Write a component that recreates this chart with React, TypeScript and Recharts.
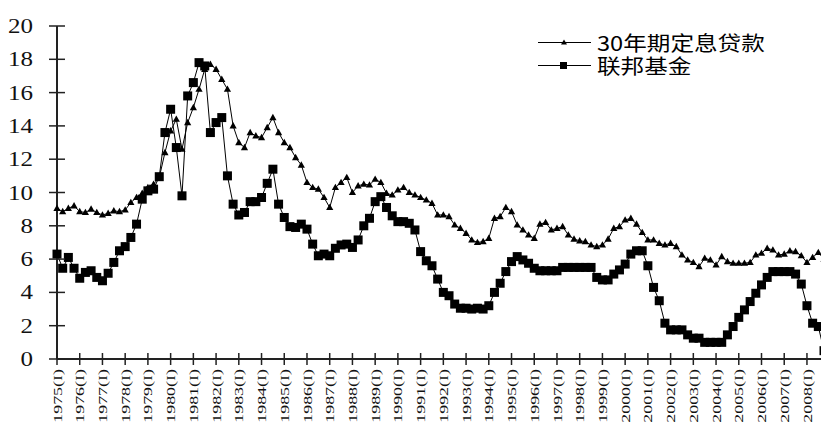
import { LineChart, Line, XAxis, YAxis, Legend } from 'recharts';

// quarterly, 1975(I) .. 2008(IV)
const YEARS = [
  1975, 1976, 1977, 1978, 1979, 1980, 1981, 1982, 1983, 1984, 1985, 1986,
  1987, 1988, 1989, 1990, 1991, 1992, 1993, 1994, 1995, 1996, 1997, 1998,
  1999, 2000, 2001, 2002, 2003, 2004, 2005, 2006, 2007, 2008,
];
const QUARTERS = ['I', 'II', 'III', 'IV'];
const Y_TICKS = [0, 2, 4, 6, 8, 10, 12, 14, 16, 18, 20];

const MORTGAGE_NAME = '30年期定息贷款';
const FED_NAME = '联邦基金';

// 30年期定息贷款
const mortgage30 = [
  9.05, 8.85, 9.05, 9.2,
  8.85, 8.8, 9.0, 8.8,
  8.65, 8.75, 8.9, 8.85,
  8.95, 9.4, 9.7, 9.95,
  10.3, 10.5, 10.9, 12.4,
  13.7, 14.4, 12.6, 14.2,
  15.1, 16.2, 17.4, 17.7,
  17.4, 16.8, 16.2, 14.0,
  13.0, 12.7, 13.6, 13.4,
  13.3, 13.9, 14.5, 13.6,
  13.0, 12.7, 12.1, 11.65,
  10.6, 10.3, 10.2, 9.7,
  9.1, 10.3, 10.6, 10.9,
  10.0, 10.4, 10.5, 10.45,
  10.8, 10.6, 9.95, 9.85,
  10.15, 10.3, 10.0, 9.85,
  9.7, 9.55, 9.35, 8.65,
  8.65, 8.55, 8.05, 7.85,
  7.55, 7.15, 7.0, 7.05,
  7.25, 8.45, 8.55, 9.1,
  8.85, 8.05, 7.75, 7.45,
  7.25, 8.1, 8.2, 7.75,
  7.85, 7.95, 7.45, 7.2,
  7.1, 7.05, 6.85, 6.75,
  6.85, 7.2, 7.85, 7.95,
  8.35, 8.45, 8.1, 7.6,
  7.15, 7.15, 6.95, 6.85,
  6.95, 6.75, 6.25, 5.95,
  5.8, 5.55, 6.05, 5.95,
  5.65, 6.15, 5.85, 5.75,
  5.75, 5.75, 5.8, 6.25,
  6.35, 6.65, 6.55, 6.25,
  6.3, 6.5, 6.45, 6.2,
  5.8, 6.1, 6.4, 6.0,
];

// 联邦基金
const fedFunds = [
  6.3, 5.45, 6.1, 5.45,
  4.85, 5.2, 5.3, 4.9,
  4.7, 5.15, 5.8, 6.5,
  6.75, 7.3, 8.1, 9.6,
  10.1, 10.2, 10.95, 13.6,
  15.0, 12.7, 9.8, 15.8,
  16.6, 17.8, 17.6, 13.6,
  14.2, 14.5, 11.0, 9.3,
  8.65, 8.8, 9.45, 9.45,
  9.7, 10.55, 11.4, 9.3,
  8.5, 7.95, 7.9, 8.1,
  7.8, 6.9, 6.2, 6.3,
  6.2, 6.65, 6.85, 6.9,
  6.7, 7.15, 8.0, 8.45,
  9.45, 9.75, 9.1, 8.6,
  8.25, 8.25, 8.15, 7.75,
  6.45, 5.9, 5.6, 4.8,
  4.0, 3.8, 3.3, 3.05,
  3.05, 3.0, 3.05, 3.0,
  3.2, 4.0, 4.55, 5.25,
  5.85, 6.15, 5.95, 5.75,
  5.45, 5.3, 5.3, 5.3,
  5.3, 5.5, 5.5, 5.5,
  5.5, 5.5, 5.5, 4.9,
  4.75, 4.75, 5.1, 5.35,
  5.7, 6.3, 6.5, 6.5,
  5.6, 4.3, 3.5, 2.15,
  1.75, 1.75, 1.75, 1.45,
  1.25, 1.25, 1.0, 1.0,
  1.0, 1.0, 1.45, 1.95,
  2.5, 2.95, 3.45, 3.95,
  4.45, 4.9, 5.25, 5.25,
  5.25, 5.25, 5.1, 4.5,
  3.2, 2.15, 1.95, 0.5,
];

const categories = YEARS.flatMap((y) => QUARTERS.map((q) => `${y}(${q})`));

const data = categories.map((label, i) => ({
  label,
  mortgage: mortgage30[i],
  fed: fedFunds[i],
}));

const AXIS = '#222';

function TriDot(props: any) {
  const { cx, cy, index } = props;
  if (cx == null || cy == null) return <g key={index} />;
  return (
    <path
      key={index}
      d={`M${cx},${cy - 3.8} L${cx + 3.6},${cy + 2.6} L${cx - 3.6},${cy + 2.6} Z`}
      fill="#000"
    />
  );
}

function SquareDot(props: any) {
  const { cx, cy, index } = props;
  if (cx == null || cy == null) return <g key={index} />;
  return <rect key={index} x={cx - 4.5} y={cy - 4.5} width={9} height={9} fill="#000" />;
}

function YTick({ x, y, payload }: any) {
  return (
    <g>
      <line x1={x - 8} x2={x + 8} y1={y} y2={y} stroke={AXIS} strokeWidth={1.5} />
      <g transform={`translate(${x - 24},${y}) scale(1.25,1)`}>
        <text
          x={0}
          y={0}
          dy="0.35em"
          textAnchor="end"
          fontFamily='"Liberation Serif", serif'
          fontSize={20}
          fill="#111"
        >
          {payload.value}
        </text>
      </g>
    </g>
  );
}

function XTick({ x, y, payload }: any) {
  return (
    <g>
      <line x1={x} x2={x} y1={y - 6} y2={y + 6} stroke={AXIS} strokeWidth={1.5} />
      <g transform={`translate(${x},${y + 10}) rotate(-90) scale(1.38,1)`}>
        <text
          x={0}
          y={0}
          dy="0.35em"
          textAnchor="end"
          fontFamily='"Liberation Serif", serif'
          fontSize={13}
          fill="#111"
        >
          {payload.value}
        </text>
      </g>
    </g>
  );
}

function LegendBox() {
  const row = (name: string, square: boolean) => (
    <div style={{ display: 'flex', alignItems: 'center', height: 23 }}>
      <svg width={59} height={23} style={{ display: 'block' }}>
        <line x1={0} x2={53} y1={11.5} y2={11.5} stroke="#000" strokeWidth={1} />
        {square ? (
          <rect x={22} y={8} width={7} height={7} fill="#000" />
        ) : (
          <path d="M26,8.5 L29,13.5 L23,13.5 Z" fill="#000" />
        )}
      </svg>
      <span
        style={{
          display: 'inline-block',
          transform: 'scaleX(1.18)',
          transformOrigin: 'left center',
          whiteSpace: 'nowrap',
        }}
      >
        {name}
      </span>
    </div>
  );
  return (
    <div
      style={{
        fontFamily: '"Noto Sans CJK SC", "Noto Sans", sans-serif',
        fontSize: 20,
        color: '#000',
        lineHeight: '23px',
      }}
    >
      {row(MORTGAGE_NAME, false)}
      {row(FED_NAME, true)}
    </div>
  );
}

export default function App() {
  return (
    <div
      style={{
        position: 'absolute',
        left: 0,
        top: 0,
        width: 821,
        height: 424,
        overflow: 'hidden',
        background: '#fff',
      }}
    >
      <LineChart
        width={830}
        height={424}
        data={data}
        margin={{ top: 26, right: 6, bottom: 0, left: 0 }}
      >
        <XAxis
          dataKey="label"
          interval={3}
          tickSize={0}
          tickMargin={0}
          tickLine={false}
          axisLine={{ stroke: AXIS, strokeWidth: 2 }}
          tick={<XTick />}
          height={65}
        />
        <YAxis
          domain={[0, 20]}
          ticks={Y_TICKS}
          type="number"
          width={57}
          tickSize={0}
          tickMargin={0}
          tickLine={false}
          axisLine={{ stroke: AXIS, strokeWidth: 2 }}
          tick={<YTick />}
          interval={0}
        />
        <Legend
          layout="vertical"
          align="center"
          verticalAlign="middle"
          content={<LegendBox />}
          wrapperStyle={{ left: 538, top: 31, width: 260 }}
        />
        <Line
          type="linear"
          dataKey="mortgage"
          name={MORTGAGE_NAME}
          stroke="#000"
          strokeWidth={1}
          dot={TriDot}
          activeDot={false}
          isAnimationActive={false}
        />
        <Line
          type="linear"
          dataKey="fed"
          name={FED_NAME}
          stroke="#000"
          strokeWidth={1}
          dot={SquareDot}
          activeDot={false}
          isAnimationActive={false}
        />
      </LineChart>
    </div>
  );
}
